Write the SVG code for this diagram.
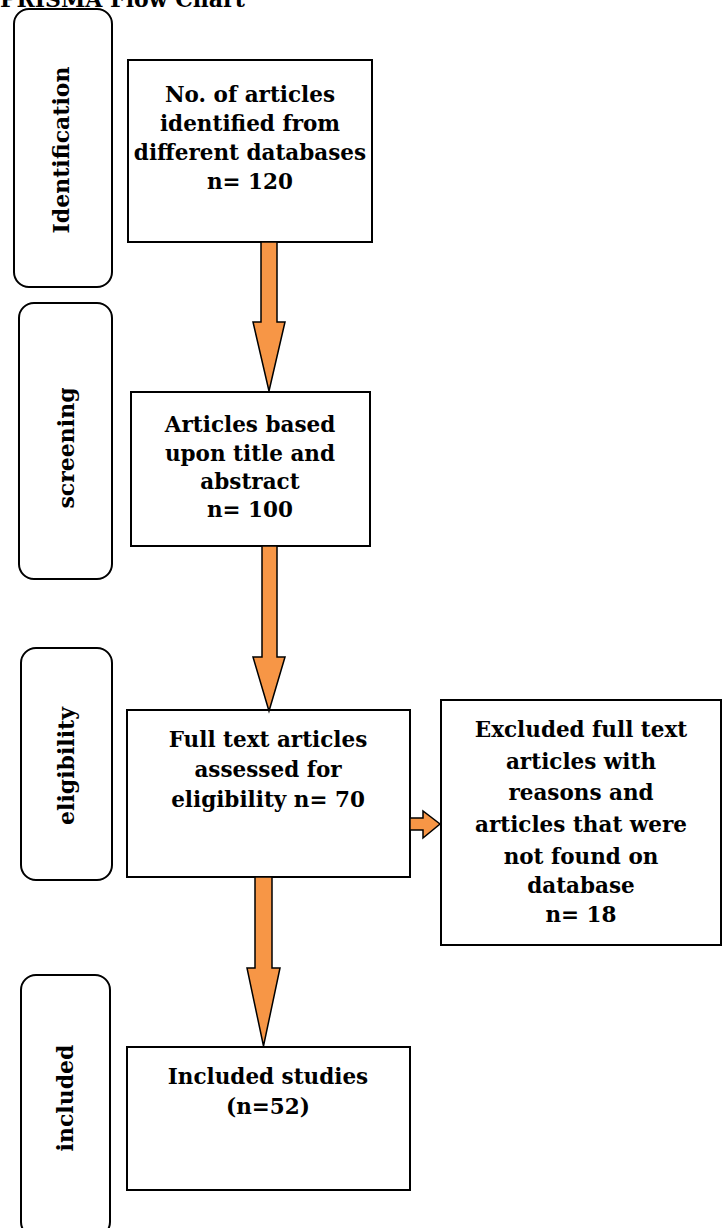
<svg xmlns="http://www.w3.org/2000/svg" width="725" height="1228" viewBox="0 0 725 1228">
<style>
.bg{fill:#ffffff}
.stage{fill:#ffffff;stroke:#000000;stroke-width:2}
.box{fill:#ffffff;stroke:#000000;stroke-width:2}
.t{font-family:"DejaVu Serif","Liberation Serif",serif;font-weight:bold;font-size:21.5px;fill:#000000;text-anchor:middle}
.lab{font-family:"DejaVu Serif","Liberation Serif",serif;font-weight:bold;font-size:22px;fill:#000000;text-anchor:middle}
.title{font-family:"DejaVu Serif","Liberation Serif",serif;font-weight:bold;font-size:22px;fill:#000000}
.arr{fill:#F79646;stroke:#000000;stroke-width:1.5;stroke-linejoin:miter}
</style>
<rect class="bg" x="0" y="0" width="725" height="1228"/>
<text class="title" x="0" y="7">PRISMA Flow Chart</text>

<g id="stage-identification">
<rect class="stage" x="14" y="9" width="98" height="278" rx="15"/>
<text class="lab" transform="translate(69,150) rotate(-90)">Identification</text>
</g>
<g id="stage-screening">
<rect class="stage" x="19" y="303" width="93" height="276" rx="15"/>
<text class="lab" transform="translate(74,448) rotate(-90)">screening</text>
</g>
<g id="stage-eligibility">
<rect class="stage" x="21" y="648" width="91" height="232" rx="15"/>
<text class="lab" transform="translate(74,766) rotate(-90)">eligibility</text>
</g>
<g id="stage-included">
<rect class="stage" x="21" y="975" width="89" height="262" rx="15"/>
<text class="lab" transform="translate(73,1098) rotate(-90)">included</text>
</g>

<g id="node-identified">
<rect class="box" x="128" y="60" width="244" height="182"/>
<text class="t" x="250" y="102">No. of articles</text>
<text class="t" x="250" y="131">identified from</text>
<text class="t" x="250" y="160">different databases</text>
<text class="t" x="250" y="189">n= 120</text>
</g>
<g id="node-screened">
<rect class="box" x="131" y="392" width="239" height="154"/>
<text class="t" x="250" y="432">Articles based</text>
<text class="t" x="250" y="461">upon title and</text>
<text class="t" x="250" y="489">abstract</text>
<text class="t" x="250" y="517">n= 100</text>
</g>
<g id="node-eligible">
<rect class="box" x="127" y="710" width="283" height="167"/>
<text class="t" x="268" y="747">Full text articles</text>
<text class="t" x="268" y="777">assessed for</text>
<text class="t" x="268" y="807">eligibility n= 70</text>
</g>
<g id="node-excluded">
<rect class="box" x="441" y="700" width="280" height="245"/>
<text class="t" x="581" y="737">Excluded full text</text>
<text class="t" x="581" y="769">articles with</text>
<text class="t" x="581" y="800">reasons and</text>
<text class="t" x="581" y="832">articles that were</text>
<text class="t" x="581" y="864">not found on</text>
<text class="t" x="581" y="893">database</text>
<text class="t" x="581" y="922">n= 18</text>
</g>
<g id="node-included">
<rect class="box" x="127" y="1047" width="283" height="143"/>
<text class="t" x="268" y="1084">Included studies</text>
<text class="t" x="268" y="1114">(n=52)</text>
</g>

<g id="connectors">
<polygon class="arr" points="261,242 277,242 277,322 285,322 269,391 253,322 261,322"/>
<polygon class="arr" points="262,546 277,546 277,657 285,657 269,711 253,657 262,657"/>
<polygon class="arr" points="255,877 272,877 272,968 280,968 263.5,1046 247,968 255,968"/>
<polygon class="arr" points="410,818 423,818 423,811 440,824 423,838 423,830 410,830"/>
</g>
</svg>
